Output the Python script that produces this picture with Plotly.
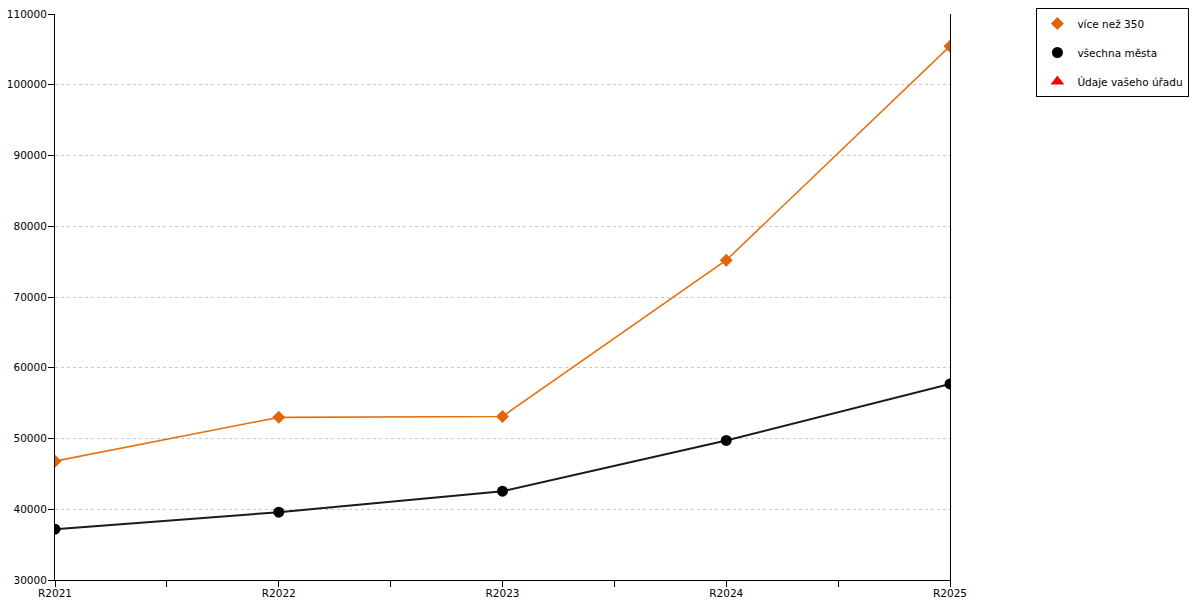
import plotly.graph_objects as go

# data
years = ["R2021", "R2022", "R2023", "R2024", "R2025"]
over_350 = [46800, 52990, 53120, 75200, 105450]
all_cities = [37190, 39580, 42550, 49720, 57720]
your_office = []

x_pos = list(range(len(years)))
orange = "#E8710F"
black = "#1a1a1a"

fig = go.Figure()

# lines (not in legend)
fig.add_trace(go.Scatter(x=x_pos, y=over_350, mode="lines", line=dict(color=orange, width=1.6),
                         showlegend=False, hoverinfo="skip"))
fig.add_trace(go.Scatter(x=x_pos, y=all_cities, mode="lines", line=dict(color=black, width=2),
                         showlegend=False, hoverinfo="skip"))

# markers (legend entries)
fig.add_trace(go.Scatter(x=x_pos, y=over_350, mode="markers", name="více než 350", legendgroup="a",
                         marker=dict(symbol="diamond", size=10, color="#E0660A")))
fig.add_trace(go.Scatter(x=x_pos, y=all_cities, mode="markers", name="všechna města", legendgroup="b",
                         marker=dict(symbol="circle", size=11, color="black")))
fig.add_trace(go.Scatter(x=[None] if not your_office else x_pos, y=[None] if not your_office else your_office,
                         mode="markers", name="Údaje vašeho úřadu", legendgroup="c",
                         marker=dict(symbol="triangle-up", size=12, color="red")))

# page body adds ~8px offset, margins compensate for it
fig.update_layout(
    width=1200, height=600,
    margin=dict(l=47, r=258, t=6, b=28, autoexpand=False),
    plot_bgcolor="white", paper_bgcolor="white",
    font=dict(family="DejaVu Sans", size=11, color="black"),
    legend=dict(xref="container", yref="container", x=0.857, xanchor="left", y=1.0, yanchor="top",
                bordercolor="black", borderwidth=1, bgcolor="white",
                font=dict(size=10.5), tracegroupgap=10, itemwidth=30),
)
fig.update_xaxes(
    range=[0, 4], tickmode="array", tickvals=x_pos, ticktext=years, automargin=False,
    showline=True, linecolor="black", linewidth=1,
    ticks="outside", ticklen=6, tickcolor="black", showgrid=False, zeroline=False,
    minor=dict(dtick=0.5, tick0=0, ticks="outside", ticklen=6, tickcolor="black", showgrid=False),
    tickfont=dict(size=10.5), ticklabelstandoff=-3, ticklabeloverflow="allow",
)
fig.update_yaxes(
    range=[30000, 110000], dtick=10000, tickformat="d", automargin=False,
    showline=True, linecolor="black", linewidth=1, mirror=True,
    ticks="outside", ticklen=6, tickcolor="black",
    showgrid=True, gridcolor="#c8c8c8", griddash="dot", zeroline=False,
    tickfont=dict(size=10.5), ticklabelstandoff=-1, ticklabeloverflow="allow",
)

fig.write_html("out.html")
